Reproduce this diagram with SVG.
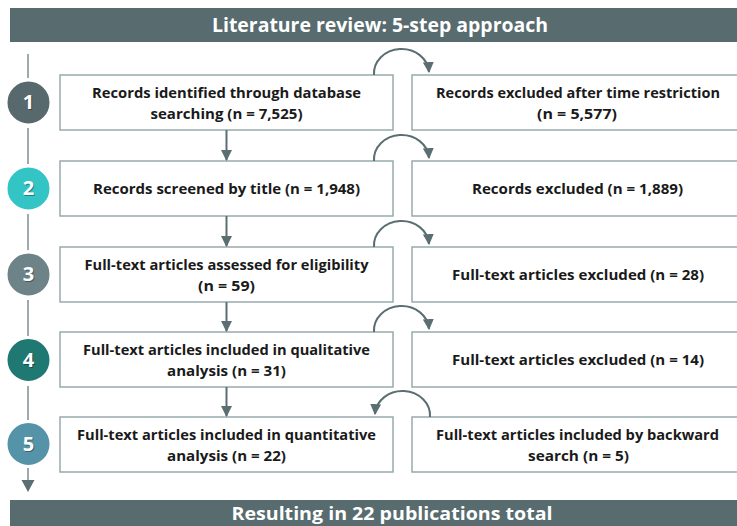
<svg xmlns="http://www.w3.org/2000/svg" width="737" height="526" viewBox="0 0 737 526">
<defs>
<style>
.bar{fill:#586b6f}
.bartxt{font-family:"Open Sans","Liberation Sans",sans-serif;font-weight:700;font-size:19px;fill:#ffffff;text-anchor:middle}
.foot{font-size:18px}
.box{fill:#ffffff;stroke:#98aaad;stroke-width:1.5}
.t{font-family:"Open Sans","Liberation Sans",sans-serif;font-weight:700;font-size:15px;fill:#1a1a1a;text-anchor:middle}
.conn{fill:none;stroke:#5b6e72;stroke-width:2}
.tl{fill:none;stroke:#7d8f92;stroke-width:1.5}
.num{font-family:"Open Sans","Liberation Sans",sans-serif;font-weight:700;font-size:20px;fill:#ffffff;text-anchor:middle}
.sh{font-family:"Open Sans","Liberation Sans",sans-serif;font-weight:700;font-size:20px;fill:#000000;fill-opacity:0.35;text-anchor:middle}
.circ{stroke:#ffffff;stroke-width:2}
</style>
<marker id="ah" viewBox="0 0 10 10" refX="9" refY="5" markerWidth="5.5" markerHeight="5.5" orient="auto" markerUnits="strokeWidth">
<path d="M0,0 L10,5 L0,10 z" fill="#5b6e72"/>
</marker>
</defs>

<g id="header">
<rect class="bar" x="10" y="8" width="740" height="34"/>
<text class="bartxt" x="380" y="32" textLength="336" lengthAdjust="spacingAndGlyphs">Literature review: 5-step approach</text>
</g>

<g id="timeline">
<line class="tl" x1="28" y1="54" x2="28" y2="78"/>
<line class="tl" x1="28" y1="128" x2="28" y2="164"/>
<line class="tl" x1="28" y1="214" x2="28" y2="250"/>
<line class="tl" x1="28" y1="300" x2="28" y2="336"/>
<line class="tl" x1="28" y1="386" x2="28" y2="420"/>
<line class="tl" x1="28" y1="468" x2="28" y2="481"/>
<path d="M21.5,480 L34.5,480 L28,492 z" fill="#5b6e72"/>
</g>

<g id="step1">
<circle class="circ" cx="28.5" cy="102.5" r="22" fill="#58696d"/>
<text class="sh" x="29.5" y="110">1</text>
<text class="num" x="28.5" y="109">1</text>
</g>
<g id="step2">
<circle class="circ" cx="28.5" cy="188.5" r="22" fill="#33c4c6"/>
<text class="sh" x="29.5" y="196">2</text>
<text class="num" x="28.5" y="195">2</text>
</g>
<g id="step3">
<circle class="circ" cx="28.5" cy="274.5" r="22" fill="#6e8387"/>
<text class="sh" x="29.5" y="282">3</text>
<text class="num" x="28.5" y="281">3</text>
</g>
<g id="step4">
<circle class="circ" cx="28.5" cy="360" r="22" fill="#1f7872"/>
<text class="sh" x="29.5" y="367.5">4</text>
<text class="num" x="28.5" y="366.5">4</text>
</g>
<g id="step5">
<circle class="circ" cx="28.5" cy="444" r="22" fill="#5593a8"/>
<text class="sh" x="29.5" y="451.5">5</text>
<text class="num" x="28.5" y="450.5">5</text>
</g>

<g id="box1">
<rect class="box" x="60" y="75" width="333" height="55"/>
<text class="t" x="226.5" y="98" textLength="269" lengthAdjust="spacingAndGlyphs">Records identified through database</text>
<text class="t" x="226.5" y="119" textLength="152" lengthAdjust="spacingAndGlyphs">searching (n = 7,525)</text>
</g>
<g id="excl1">
<rect class="box" x="412" y="75" width="340" height="55"/>
<text class="t" x="578" y="98" textLength="284" lengthAdjust="spacingAndGlyphs">Records excluded after time restriction</text>
<text class="t" x="577" y="119" textLength="80" lengthAdjust="spacingAndGlyphs">(n = 5,577)</text>
</g>

<g id="box2">
<rect class="box" x="60" y="161" width="333" height="55"/>
<text class="t" x="226.5" y="193.5" textLength="267" lengthAdjust="spacingAndGlyphs">Records screened by title (n = 1,948)</text>
</g>
<g id="excl2">
<rect class="box" x="412" y="161" width="340" height="55"/>
<text class="t" x="577.5" y="193.5" textLength="211" lengthAdjust="spacingAndGlyphs">Records excluded (n = 1,889)</text>
</g>

<g id="box3">
<rect class="box" x="60" y="247" width="333" height="55"/>
<text class="t" x="226.5" y="270" textLength="284" lengthAdjust="spacingAndGlyphs">Full-text articles assessed for eligibility</text>
<text class="t" x="226.5" y="291" textLength="57" lengthAdjust="spacingAndGlyphs">(n = 59)</text>
</g>
<g id="excl3">
<rect class="box" x="412" y="247" width="340" height="55"/>
<text class="t" x="578" y="280" textLength="252" lengthAdjust="spacingAndGlyphs">Full-text articles excluded (n = 28)</text>
</g>

<g id="box4">
<rect class="box" x="60" y="332" width="333" height="55"/>
<text class="t" x="226.5" y="355" textLength="287" lengthAdjust="spacingAndGlyphs">Full-text articles included in qualitative</text>
<text class="t" x="226.5" y="376" textLength="119" lengthAdjust="spacingAndGlyphs">analysis (n = 31)</text>
</g>
<g id="excl4">
<rect class="box" x="412" y="332" width="340" height="55"/>
<text class="t" x="578" y="365" textLength="252" lengthAdjust="spacingAndGlyphs">Full-text articles excluded (n = 14)</text>
</g>

<g id="box5">
<rect class="box" x="60" y="417" width="333" height="55"/>
<text class="t" x="226.5" y="440" textLength="299" lengthAdjust="spacingAndGlyphs">Full-text articles included in quantitative</text>
<text class="t" x="226.5" y="461" textLength="119" lengthAdjust="spacingAndGlyphs">analysis (n = 22)</text>
</g>
<g id="back5">
<rect class="box" x="412" y="417" width="340" height="55"/>
<text class="t" x="577.5" y="440" textLength="283" lengthAdjust="spacingAndGlyphs">Full-text articles included by backward</text>
<text class="t" x="578.5" y="461" textLength="101" lengthAdjust="spacingAndGlyphs">search (n = 5)</text>
</g>

<g id="connectors">
<line class="conn" x1="226.5" y1="130" x2="226.5" y2="160" marker-end="url(#ah)"/>
<line class="conn" x1="226.5" y1="216" x2="226.5" y2="246" marker-end="url(#ah)"/>
<line class="conn" x1="226.5" y1="302" x2="226.5" y2="331" marker-end="url(#ah)"/>
<line class="conn" x1="226.5" y1="387" x2="226.5" y2="416" marker-end="url(#ah)"/>
<path class="conn" d="M374,75 A27,24 0 0 1 429,72" marker-end="url(#ah)"/>
<path class="conn" d="M374,161 A27,24 0 0 1 429,158" marker-end="url(#ah)"/>
<path class="conn" d="M374,247 A27,24 0 0 1 429,244" marker-end="url(#ah)"/>
<path class="conn" d="M374,332 A27,24 0 0 1 429,329" marker-end="url(#ah)"/>
<path class="conn" d="M430,417 A27,24 0 0 0 375,414" marker-end="url(#ah)"/>
</g>

<g id="footer">
<rect class="bar" x="10" y="500" width="740" height="30"/>
<text class="bartxt foot" x="392" y="519.5" textLength="321" lengthAdjust="spacingAndGlyphs">Resulting in 22 publications total</text>
</g>
</svg>
